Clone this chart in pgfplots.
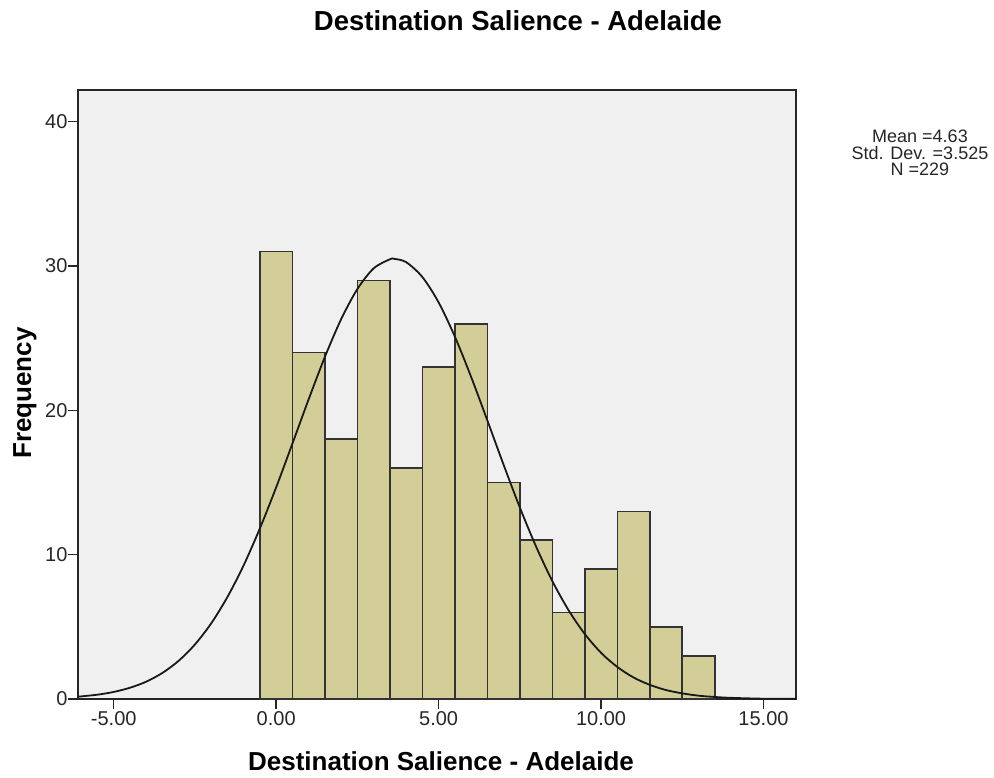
\documentclass[border=0pt]{standalone}
\usepackage{pgfplots}
\pgfplotsset{compat=1.18}
\usepackage{fontspec}
\setmainfont{Liberation Sans}
\definecolor{barfill}{RGB}{211,206,151}
\definecolor{plotbg}{RGB}{240,240,240}
\begin{document}
\begin{tikzpicture}
\useasboundingbox (-78pt,-78pt) rectangle (916pt,699pt);
\begin{axis}[
  at={(0pt,0pt)}, anchor=south west,
  scale only axis, width=718pt, height=609pt,
  xmin=-6.1, xmax=16, ymin=0, ymax=42.2,
  axis background/.style={fill=plotbg},
  axis line style={draw=black!85, line width=1.8pt},
  tick style={draw=black!85, line width=1.5pt},
  tick align=outside, major tick length=10pt,
  xtick pos=bottom, ytick pos=left,
  xtick={-5,0,5,10,15},
  xticklabels={-5.00,0.00,5.00,10.00,15.00},
  ytick={0,10,20,30,40},
  tick label style={font=\fontsize{20}{22}\selectfont, text=black!85},
  xticklabel style={yshift=1pt},
  yticklabel style={xshift=3pt},
  /pgf/number format/assume math mode=true,
  clip=true,
]
\addplot[ybar interval, fill=barfill, draw=black!80, line width=1.6pt] coordinates {
(-0.5,31)(0.5,24)(1.5,18)(2.5,29)(3.5,16)(4.5,23)(5.5,26)(6.5,15)(7.5,11)(8.5,6)(9.5,9)(10.5,13)(11.5,5)(12.5,3)(13.5,3)
};
\addplot[smooth, black!90, line width=1.8pt] coordinates {
(-6.1,0.16)(-5.5,0.30)(-5,0.49)(-4.5,0.78)(-4,1.20)(-3.5,1.81)(-3,2.65)(-2.5,3.78)(-2,5.24)(-1.5,7.07)(-1,9.27)(-0.5,11.83)(0,14.67)(0.5,17.70)(1,20.77)(1.5,23.71)(2,26.32)(2.5,28.41)(3,29.84)(3.5,30.47)(3.63,30.5)(4,30.27)(4.5,29.24)(5,27.48)(5.5,25.11)(6,22.32)(6.5,19.30)(7,16.23)(7.5,13.27)(8,10.56)(8.5,8.17)(9,6.15)(9.5,4.50)(10,3.20)(10.5,2.22)(11,1.49)(11.5,0.98)(12,0.62)(12.5,0.39)(13,0.23)(13.5,0.14)(14,0.08)(15,0.02)(16,0.01)
};
\end{axis}
\node[font=\fontsize{27.5}{30}\selectfont\bfseries] at (440pt,678pt) {Destination Salience - Adelaide};
\node[font=\fontsize{26}{29}\selectfont\bfseries] at (363pt,-62pt) {Destination Salience - Adelaide};
\node[font=\fontsize{26}{29}\selectfont\bfseries, rotate=90] at (-53pt,306pt) {Frequency};
\node[font=\fontsize{18}{16.5}\selectfont, align=center, text=black!85] at (842pt,546pt) {Mean =4.63\\Std. Dev. =3.525\\N =229};
\end{tikzpicture}
\end{document}
